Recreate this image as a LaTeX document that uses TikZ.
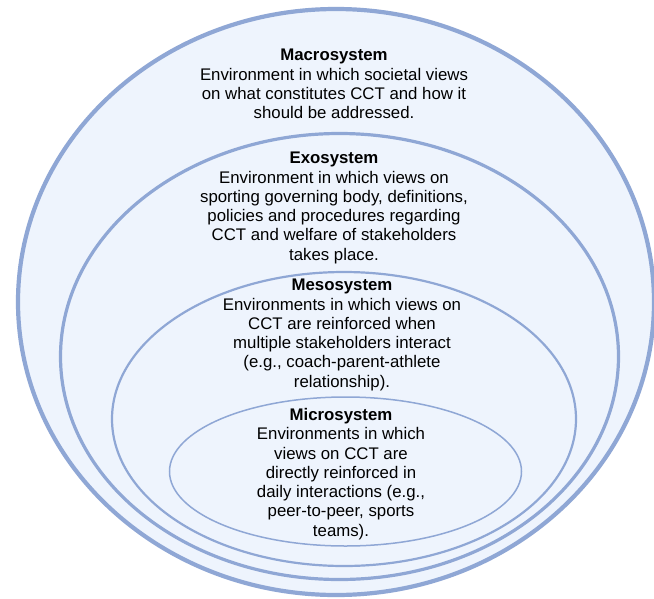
\documentclass[tikz,border=0pt]{standalone}
\usepackage{fontspec}
\setmainfont{Liberation Sans}
\definecolor{ringline}{HTML}{8FA7D5}
\definecolor{ringfill}{HTML}{EEF4FD}
\begin{document}
\begin{tikzpicture}[x=1pt,y=-1pt,
  ring/.style={draw=ringline,fill=ringfill},
  lbl/.style={align=center,font=\fontsize{16.8}{19.3}\selectfont,text=black,inner sep=0pt}]
\fill[white] (0,0) rectangle (654,598);
\useasboundingbox (0,0) rectangle (654,598);
\begin{scope}
\clip (0,0) rectangle (654,598);
\draw[ring,line width=4.2pt] (336,302) ellipse [x radius=318pt, y radius=293pt];
\draw[ring,line width=3.2pt] (339.5,356.5) ellipse [x radius=279pt, y radius=223pt];
\draw[ring,line width=2.2pt] (344,419) ellipse [x radius=232pt, y radius=147pt];
\draw[ring,line width=1.5pt] (345.5,471.5) ellipse [x radius=176pt, y radius=74.5pt];
\end{scope}
\node[lbl] (macro) at (334,84) {\textbf{Macrosystem}\\Environment in which societal views\\on what constitutes CCT and how it\\should be addressed.};
\node[lbl] (exo) at (334,208) {\textbf{Exosystem}\\Environment in which views on\\sporting governing body, definitions,\\policies and procedures regarding\\CCT and welfare of stakeholders\\takes place.};
\node[lbl] (meso) at (342,335) {\textbf{Mesosystem}\\Environments in which views on\\CCT are reinforced when\\multiple stakeholders interact\\(e.g., coach-parent-athlete\\relationship).};
\node[lbl] (micro) at (341,474) {\textbf{Microsystem}\\Environments in which\\views on CCT are\\directly reinforced in\\daily interactions (e.g.,\\peer-to-peer, sports\\teams).};
\end{tikzpicture}
\end{document}
